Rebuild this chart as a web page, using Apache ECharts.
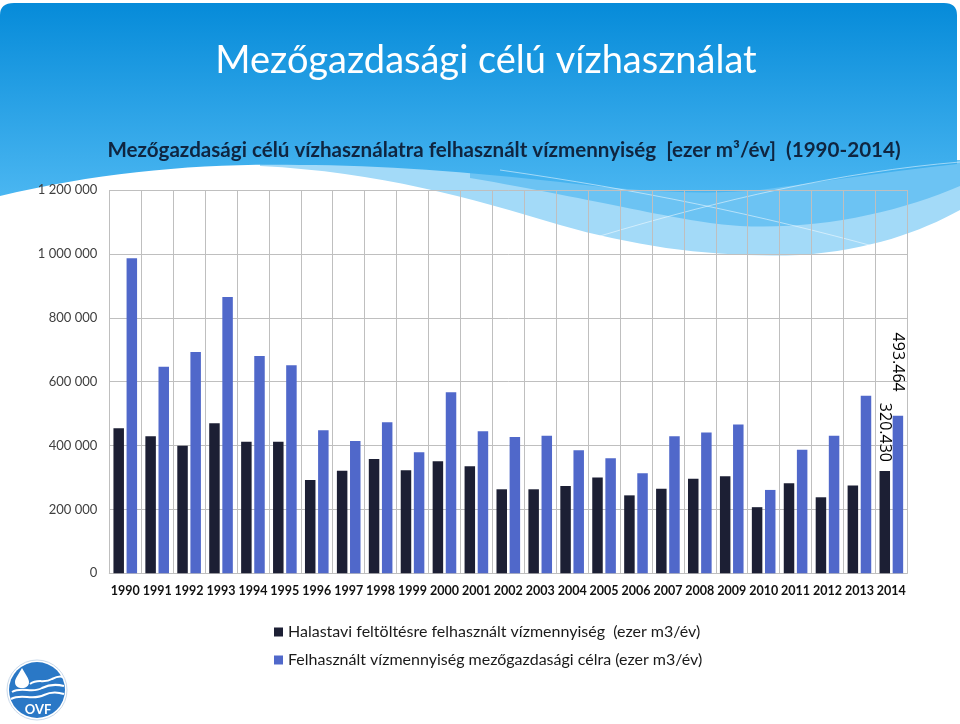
<!DOCTYPE html>
<html>
<head>
<meta charset="utf-8">
<script src="https://cdn.jsdelivr.net/npm/echarts@6/dist/echarts.min.js"></script>
<style>html,body{margin:0;padding:0;background:#fff}#c{width:960px;height:724px}</style>
</head>
<body>
<div id="c"></div>
<script>
const years = ['1990','1991','1992','1993','1994','1995','1996','1997','1998','1999','2000','2001','2002','2003','2004','2005','2006','2007','2008','2009','2010','2011','2012','2013','2014'];
const halastavi = [454000, 429000, 399000, 470000, 412000, 412000, 292000, 321000, 358000, 323000, 351000, 335000, 263000, 263000, 273000, 300000, 244000, 265000, 296000, 304000, 207000, 282000, 238000, 275000, 320430];
const mezogazdasagi = [986000, 647000, 693000, 865000, 680000, 651000, 448000, 414000, 473000, 379000, 567000, 445000, 427000, 431000, 385000, 360000, 313000, 429000, 441000, 466000, 261000, 387000, 431000, 556000, 493464];
const yTicks = [0, 200000, 400000, 600000, 800000, 1000000, 1200000];
const seriesNames = ['Halastavi feltöltésre felhasznált vízmennyiség  (ezer m3/év)', 'Felhasznált vízmennyiség mezőgazdasági célra (ezer m3/év)'];
const mainTitle = 'Mezőgazdasági célú vízhasználat';
const subTitle = 'Mezőgazdasági célú vízhasználatra felhasznált vízmennyiség  [ezer m³/év]  (1990-2014)';

const FONT = 'Lato, "Open Sans", sans-serif';
const spaceFmt = v => String(v).replace(/\B(?=(\d{3})+(?!\d))/g, ' ');
const dotFmt = v => String(v).replace(/\B(?=(\d{3})+(?!\d))/g, '.');

function withLastLabel(arr, dist) {
  return arr.map((v, i) => i === arr.length - 1 ? {
    value: v,
    label: { show: true, position: 'top', distance: dist, rotate: -90, align: 'right', verticalAlign: 'middle',
      formatter: p => dotFmt(p.value), fontSize: 16, color: '#000', fontFamily: '"Open Sans", sans-serif' }
  } : v);
}

function renderDecor() {
  const white = '#ffffff';
  return { type: 'group', children: [
    { type: 'path', shape: { pathData: 'M260,160 L960,160 L960,210 C920,232 870,250 800,255 C720,258 640,248 560,225 C470,198 380,172 260,166 Z' }, style: { fill: '#a3daf8' } },
    { type: 'path', shape: { pathData: 'M470,160 L960,160 L960,186 C900,212 820,230 740,226 C680,222 600,200 470,178 Z' }, style: { fill: '#6cc3f3' } },
    { type: 'path', shape: { pathData: 'M0,196 L0,15 Q0,3 14,3 L944,3 Q957,3 957,15 L957,164 C900,170 820,182 760,190 C700,196 620,190 560,182 C470,172 380,165 300,165 C200,163 100,172 0,196 Z' },
      style: { fill: { type: 'linear', x: 0, y: 0, x2: 0, y2: 1, colorStops: [{ offset: 0, color: '#068bd9' }, { offset: 1, color: '#4ab6f1' }] } } },
    { type: 'path', shape: { pathData: 'M500,170 C640,190 760,215 880,248' }, style: { fill: 'none', stroke: 'rgba(255,255,255,0.5)', lineWidth: 1 } },
    { type: 'path', shape: { pathData: 'M600,236 C720,200 840,172 960,162' }, style: { fill: 'none', stroke: 'rgba(255,255,255,0.5)', lineWidth: 1 } },
    { type: 'circle', shape: { cx: 37, cy: 690, r: 30 }, style: { fill: white, stroke: '#c9d9ea', lineWidth: 1 } },
    { type: 'circle', shape: { cx: 37, cy: 690, r: 28 }, style: { fill: '#2a78c6' } },
    { type: 'path', shape: { pathData: 'M22,668 C18,675 15,679 15,682 C15,686 18,688 22,688 C26,688 29,686 29,682 C29,679 26,675 22,668 Z' }, style: { fill: white } },
    { type: 'path', shape: { pathData: 'M30,684 C38,678 44,684 52,679 C56,677 60,676 63,677' }, style: { fill: 'none', stroke: white, lineWidth: 2 } },
    { type: 'path', shape: { pathData: 'M12,692 C22,686 32,694 42,688 C50,684 56,684 64,686' }, style: { fill: 'none', stroke: white, lineWidth: 2 } },
    { type: 'path', shape: { pathData: 'M11,699 C22,693 32,701 44,695 C52,691 58,692 64,694' }, style: { fill: 'none', stroke: white, lineWidth: 2 } }
  ]};
}

const chart = echarts.init(document.getElementById('c'), null, { renderer: 'canvas' });
chart.setOption({
  backgroundColor: '#ffffff',
  animation: false,
  graphic: { elements: [
    { type: 'text', z: 10, x: 486, y: 61, style: { text: mainTitle, fill: '#ffffff', fontSize: 38, fontFamily: FONT, fontWeight: 'normal', textAlign: 'center', textVerticalAlign: 'middle' } },
    { type: 'text', z: 10, x: 504, y: 150, style: { text: subTitle, fill: '#0f2540', fontSize: 20.6, fontFamily: FONT, fontWeight: 'bold', textAlign: 'center', textVerticalAlign: 'middle' } },
    { type: 'text', z: 12, x: 38, y: 710, style: { text: 'OVF', fill: '#ffffff', fontSize: 13, fontWeight: 'bold', fontFamily: FONT, textAlign: 'center', textVerticalAlign: 'middle' } }
  ]},
  legend: {
    orient: 'vertical', left: 269, top: 619, itemWidth: 9, itemHeight: 9, itemGap: 12, icon: 'rect',
    textStyle: { fontSize: 16, color: '#1a1a1a', fontFamily: FONT },
    data: seriesNames
  },
  grid: { left: 109.3, right: 52.7, top: 190, bottom: 150.7, containLabel: false },
  xAxis: {
    type: 'category', data: years,
    axisLine: { show: true, lineStyle: { color: '#bfbfbf' } },
    axisTick: { show: false },
    axisLabel: { interval: 0, margin: 11, fontSize: 12.5, fontWeight: 'bold', color: '#111', fontFamily: FONT },
    splitLine: { show: true, interval: 0, lineStyle: { color: '#bfbfbf', width: 1 } }
  },
  yAxis: {
    type: 'value', min: yTicks[0], max: yTicks[yTicks.length - 1], interval: yTicks[1] - yTicks[0],
    axisLine: { show: false }, axisTick: { show: false },
    axisLabel: { margin: 12, fontSize: 13, color: '#404040', fontFamily: FONT, formatter: spaceFmt },
    splitLine: { show: true, lineStyle: { color: '#bfbfbf', width: 1 } }
  },
  series: [
    { type: 'custom', coordinateSystem: 'none', silent: true, z: -5, data: [0], renderItem: renderDecor },
    { name: seriesNames[0], type: 'bar', data: withLastLabel(halastavi, 9), barWidth: 10.5, barGap: '25%', itemStyle: { color: '#1c1f34' } },
    { name: seriesNames[1], type: 'bar', data: withLastLabel(mezogazdasagi, 24), barWidth: 10.5, barGap: '25%', itemStyle: { color: '#5068ca' } }
  ]
});
</script>
</body>
</html>
